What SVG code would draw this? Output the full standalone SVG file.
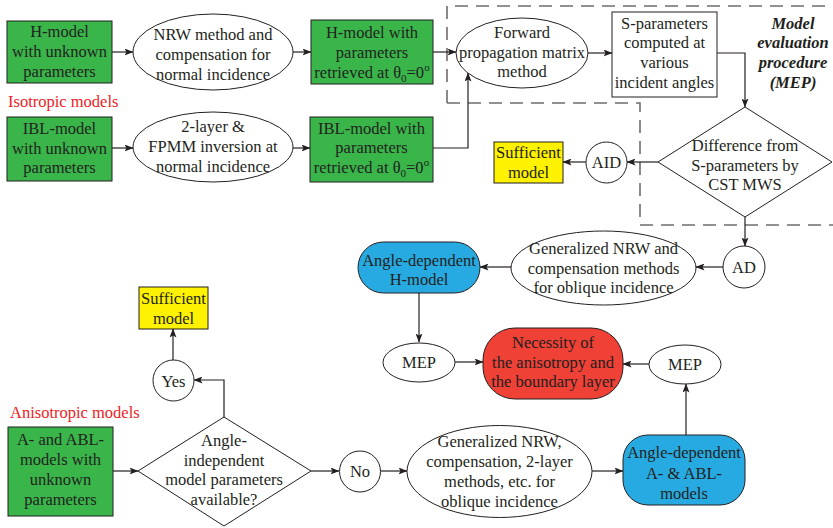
<svg xmlns="http://www.w3.org/2000/svg" width="833" height="528" viewBox="0 0 833 528">
<defs>
<marker id="ah" markerWidth="9" markerHeight="7" refX="8.5" refY="3.5" orient="auto" markerUnits="userSpaceOnUse">
<path d="M0,0 L9,3.5 L0,7 L2,3.5 z" fill="#231F20"/>
</marker>
</defs>
<style>
text{font-size:16.5px;fill:#231F20;text-anchor:middle}
.sh{stroke:#231F20;stroke-width:1}
.g{fill:#39B54A}
.y{fill:#FFF200}
.b{fill:#27AAE1}
.r{fill:#EF4136}
.w{fill:#FFFFFF}
.c{fill:none;stroke:#231F20;stroke-width:1.2;marker-end:url(#ah)}
.lbl{fill:#ED1C24;text-anchor:start}
.mep{font-weight:bold;font-style:italic}
.sub{font-size:11px}
</style>
<rect width="833" height="528" fill="#FFFFFF"/>
<g id="mep-boundary">
<path d="M447,103 L447,6 L833,6 M447,103 L640,103 L640,225 L833,225" fill="none" stroke="#6d6d6d" stroke-width="1.6" stroke-dasharray="13,8"/>
</g>
<g id="connectors">
<line class="c" x1="112" y1="52" x2="133" y2="52"/>
<line class="c" x1="293" y1="52" x2="311" y2="52"/>
<line class="c" x1="433" y1="52" x2="456" y2="52"/>
<line class="c" x1="112" y1="148" x2="133" y2="148"/>
<line class="c" x1="293" y1="148" x2="310" y2="148"/>
<polyline class="c" points="433,148 468,148 468,73"/>
<line class="c" x1="588" y1="53" x2="612" y2="53"/>
<polyline class="c" points="717,53 745,53 745,107"/>
<line class="c" x1="658" y1="162" x2="627" y2="162"/>
<line class="c" x1="586" y1="162" x2="563" y2="162"/>
<line class="c" x1="745" y1="217" x2="745" y2="246"/>
<line class="c" x1="723" y1="267" x2="696" y2="267"/>
<line class="c" x1="511" y1="267" x2="480" y2="267"/>
<line class="c" x1="419" y1="293" x2="419" y2="342"/>
<line class="c" x1="455" y1="362" x2="483" y2="362"/>
<line class="c" x1="649" y1="364" x2="623" y2="364"/>
<line class="c" x1="686" y1="435" x2="686" y2="384"/>
<line class="c" x1="592" y1="471" x2="623" y2="471"/>
<line class="c" x1="381" y1="471" x2="407" y2="471"/>
<line class="c" x1="311" y1="471" x2="339" y2="471"/>
<line class="c" x1="113" y1="471" x2="138" y2="471"/>
<polyline class="c" points="224,417 224,380 194,380"/>
<line class="c" x1="173" y1="360" x2="173" y2="329"/>
</g>
<g font-family="Liberation Serif">
<g id="h-model">
<rect class="sh g" x="7" y="21" width="105" height="62"/>
<text x="59.5" y="36.5">H-model</text>
<text x="59.5" y="56.5">with unknown</text>
<text x="59.5" y="76.5">parameters</text>
</g>
<g id="isotropic-label">
<text class="lbl" x="8" y="107">Isotropic models</text>
</g>
<g id="nrw-normal">
<ellipse class="sh w" cx="213" cy="52" rx="80" ry="38"/>
<text x="213" y="40">NRW method and</text>
<text x="213" y="60">compensation for</text>
<text x="213" y="80">normal incidence</text>
</g>
<g id="h-model-retrieved">
<rect class="sh g" x="311" y="20" width="122" height="64"/>
<text x="372" y="38">H-model with</text>
<text x="372" y="57.5">parameters</text>
<text x="372" y="77.5">retrieved at θ<tspan class="sub" dy="4">0</tspan><tspan dy="-4">=0</tspan><tspan class="sub" dy="-7">o</tspan></text>
</g>
<g id="fpmm">
<ellipse class="sh w" cx="522" cy="53" rx="66" ry="35"/>
<text x="522" y="38">Forward</text>
<text x="522" y="57.5">propagation matrix</text>
<text x="522" y="77">method</text>
</g>
<g id="s-params">
<rect class="sh w" x="612" y="12" width="105" height="85"/>
<text x="664.5" y="28.5">S-parameters</text>
<text x="664.5" y="48">computed at</text>
<text x="664.5" y="68">various</text>
<text x="664.5" y="87.5">incident angles</text>
</g>
<g id="mep-title">
<text class="mep" x="793" y="28.5">Model</text>
<text class="mep" x="793" y="48">evaluation</text>
<text class="mep" x="793" y="68">procedure</text>
<text class="mep" x="793" y="87.5">(MEP)</text>
</g>
<g id="ibl-model">
<rect class="sh g" x="7" y="117" width="105" height="64"/>
<text x="59.5" y="134">IBL-model</text>
<text x="59.5" y="153.5">with unknown</text>
<text x="59.5" y="173">parameters</text>
</g>
<g id="two-layer">
<ellipse class="sh w" cx="213" cy="147" rx="80" ry="35"/>
<text x="213" y="132">2-layer &amp;</text>
<text x="213" y="152">FPMM inversion at</text>
<text x="213" y="171.5">normal incidence</text>
</g>
<g id="ibl-retrieved">
<rect class="sh g" x="310" y="117" width="123" height="65"/>
<text x="371.5" y="133.5">IBL-model with</text>
<text x="371.5" y="153">parameters</text>
<text x="371.5" y="173">retrieved at θ<tspan class="sub" dy="4">0</tspan><tspan dy="-4">=0</tspan><tspan class="sub" dy="-7">o</tspan></text>
</g>
<g id="difference">
<polygon class="sh w" points="745,107 832,162 745,217 658,162"/>
<text x="745" y="151">Difference from</text>
<text x="745" y="170.5">S-parameters by</text>
<text x="745" y="190">CST MWS</text>
</g>
<g id="aid">
<circle class="sh w" cx="606.5" cy="162.5" r="20.5"/>
<text x="606.5" y="168">AID</text>
</g>
<g id="sufficient-1">
<rect class="sh y" x="494" y="142" width="69" height="41"/>
<text x="528.5" y="158">Sufficient</text>
<text x="528.5" y="177.5">model</text>
</g>
<g id="ad">
<circle class="sh w" cx="744" cy="267" r="21"/>
<text x="744" y="272.5">AD</text>
</g>
<g id="gen-nrw-oblique">
<ellipse class="sh w" cx="603.5" cy="268" rx="92.5" ry="37"/>
<text x="603.5" y="254">Generalized NRW and</text>
<text x="603.5" y="273.5">compensation methods</text>
<text x="603.5" y="293">for oblique incidence</text>
</g>
<g id="angle-dep-h">
<rect class="sh b" x="358" y="242" width="122" height="51" rx="25.5"/>
<text x="419" y="266">Angle-dependent</text>
<text x="419" y="285">H-model</text>
</g>
<g id="mep-left">
<ellipse class="sh w" cx="419" cy="362.5" rx="36" ry="19.5"/>
<text x="419" y="368">MEP</text>
</g>
<g id="necessity">
<rect class="sh r" x="483" y="328" width="140" height="71" rx="32"/>
<text x="553" y="348">Necessity of</text>
<text x="553" y="367.5">the anisotropy and</text>
<text x="553" y="387">the boundary layer</text>
</g>
<g id="mep-right">
<ellipse class="sh w" cx="685" cy="364.5" rx="36" ry="19.5"/>
<text x="685" y="370">MEP</text>
</g>
<g id="angle-dep-a">
<rect class="sh b" x="623" y="435" width="122" height="70" rx="25"/>
<text x="684" y="458">Angle-dependent</text>
<text x="684" y="479">A- &amp; ABL-</text>
<text x="684" y="499">models</text>
</g>
<g id="gen-nrw-2layer">
<ellipse class="sh w" cx="499.5" cy="471.5" rx="92.5" ry="46"/>
<text x="499.5" y="447">Generalized NRW,</text>
<text x="499.5" y="467">compensation, 2-layer</text>
<text x="499.5" y="487">methods, etc. for</text>
<text x="499.5" y="507">oblique incidence</text>
</g>
<g id="no">
<circle class="sh w" cx="360" cy="471.5" r="20.5"/>
<text x="360" y="477">No</text>
</g>
<g id="angle-indep">
<polygon class="sh w" points="224,417 311,471 224,526 138,471"/>
<text x="224" y="446">Angle-</text>
<text x="224" y="465.5">independent</text>
<text x="224" y="485">model parameters</text>
<text x="224" y="504.5">available?</text>
</g>
<g id="a-abl-model">
<rect class="sh g" x="8" y="427" width="105" height="89"/>
<text x="60.5" y="445">A- and ABL-</text>
<text x="60.5" y="465">models with</text>
<text x="60.5" y="485">unknown</text>
<text x="60.5" y="504.5">parameters</text>
</g>
<g id="anisotropic-label">
<text class="lbl" x="10" y="418">Anisotropic models</text>
</g>
<g id="yes">
<circle class="sh w" cx="173.5" cy="380.5" r="20.5"/>
<text x="173.5" y="386.5">Yes</text>
</g>
<g id="sufficient-2">
<rect class="sh y" x="139" y="287" width="69" height="42"/>
<text x="173.5" y="304">Sufficient</text>
<text x="173.5" y="324">model</text>
</g>
</g>
</svg>
